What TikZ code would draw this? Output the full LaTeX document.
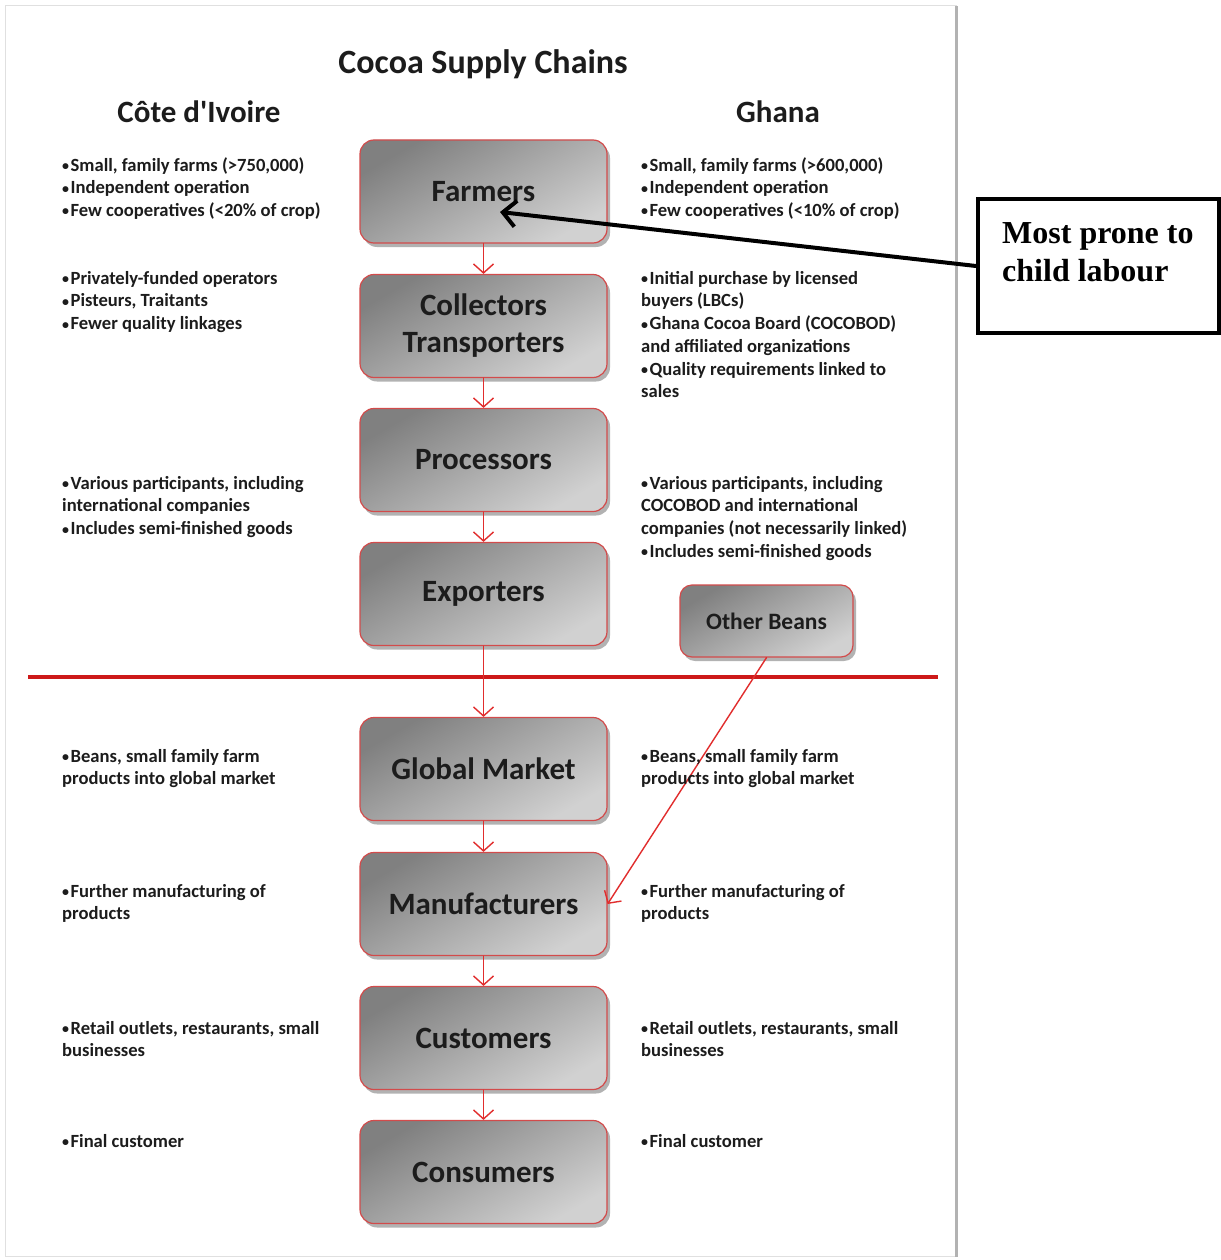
\documentclass[tikz,border=0pt]{standalone}
\usepackage{fontspec}
\setmainfont{Carlito}
\newfontfamily\calloutfont{Liberation Serif}
\usetikzlibrary{shadows,arrows.meta}

\definecolor{boxred}{RGB}{210,75,75}
\definecolor{flowred}{RGB}{225,45,45}
\definecolor{rulered}{RGB}{205,25,25}
\definecolor{inkgray}{RGB}{28,28,28}

% small bullet as in the notes
\newcommand{\bul}{\raisebox{0.5pt}{\scalebox{0.75}{•}}\kern1.5pt}

\begin{document}
\begin{tikzpicture}[x=1pt,y=-1pt,line cap=round,
    stagebox/.style={draw=boxred, line width=1.2pt, rounded corners=14pt,
      minimum width=247pt, minimum height=103pt, align=center,
      top color=black!50, bottom color=black!18, shading angle=30,
      drop shadow={shadow xshift=3pt,shadow yshift=-4pt,opacity=0.3,fill=black},
      text=inkgray, font=\bfseries\fontsize{31}{37}\selectfont},
    notes/.style={anchor=north west, inner sep=0pt, align=left, text=inkgray,
      font=\bfseries\fontsize{18.6}{22.7}\selectfont},
    header/.style={text=inkgray, font=\bfseries\fontsize{31}{34}\selectfont},
    flow/.style={draw=flowred, line width=1.4pt,
      -{Straight Barb[length=9pt,width=20pt,line width=1.4pt]}},
  ]
  % Tunables
  \def\cx{483.5}   % x centre of the chain boxes
  \def\lx{62}      % left edge of the Cote d'Ivoire notes
  \def\rx{641}     % left edge of the Ghana notes

  \useasboundingbox (0,0) rectangle (1220,1260);

  % page frame
  \fill[white] (5,6) rectangle (956,1256);
  \draw[black!12, line width=1pt] (5,6) rectangle (956,1256);
  \fill[black!30] (955,6) rectangle (958,1257);

  % headings
  \node[text=inkgray, font=\bfseries\fontsize{34}{38}\selectfont] (title) at (483,64) {Cocoa Supply Chains};
  \node[header] (civ) at (199,112) {Côte d\textquotesingle Ivoire};
  \node[header] (gha) at (778,112) {Ghana};

  % the chain
  \node[stagebox] (farmers)       at (\cx,191.5) {Farmers};
  \node[stagebox] (collectors)    at (\cx,326)   {Collectors\\Transporters};
  \node[stagebox] (processors)    at (\cx,460)   {Processors};
  \node[stagebox] (exporters)     at (\cx,594)   {Exporters};
  \node[stagebox] (global)        at (\cx,769)   {Global Market};
  \node[stagebox] (manufacturers) at (\cx,904)   {Manufacturers};
  \node[stagebox] (customers)     at (\cx,1038)  {Customers};
  \node[stagebox] (consumers)     at (\cx,1172)  {Consumers};
  \node[stagebox, minimum width=173pt, minimum height=72pt, rounded corners=12pt,
    font=\bfseries\fontsize{23.5}{25}\selectfont] (otherbeans) at (766.5,621) {Other Beans};

  % export line
  \draw[rulered, line width=3.5pt, line cap=butt] (28,677) -- (938,677);

  \foreach \a/\b in {farmers/collectors, collectors/processors, processors/exporters,
      exporters/global, global/manufacturers, manufacturers/customers, customers/consumers}
    \draw[flow] (\a) -- (\b);
  \draw[flow] (otherbeans.south) -- (manufacturers.east);

  % Cote d'Ivoire notes
  \node[notes] (civfarm) at (\lx,157) {\bul Small, family farms (>750,000)\\\bul Independent operation\\\bul Few cooperatives (<20\% of crop)};
  \node[notes] (civcoll) at (\lx,271) {\bul Privately-funded operators\\\bul Pisteurs, Traitants\\\bul Fewer quality linkages};
  \node[notes] (civproc) at (\lx,476) {\bul Various participants, including\\international companies\\\bul Includes semi-finished goods};
  \node[notes] (civglob) at (\lx,749) {\bul Beans, small family farm\\products into global market};
  \node[notes] (civmanu) at (\lx,884) {\bul Further manufacturing of\\products};
  \node[notes] (civcust) at (\lx,1021) {\bul Retail outlets, restaurants, small\\businesses};
  \node[notes] (civcons) at (\lx,1134) {\bul Final customer};

  % Ghana notes
  \node[notes] (ghafarm) at (\rx,157) {\bul Small, family farms (>600,000)\\\bul Independent operation\\\bul Few cooperatives (<10\% of crop)};
  \node[notes] (ghacoll) at (\rx,271) {\bul Initial purchase by licensed\\buyers (LBCs)\\\bul Ghana Cocoa Board (COCOBOD)\\and affiliated organizations\\\bul Quality requirements linked to\\sales};
  \node[notes] (ghaproc) at (\rx,476) {\bul Various participants, including\\COCOBOD and international\\companies (not necessarily linked)\\\bul Includes semi-finished goods};
  \node[notes] (ghaglob) at (\rx,749) {\bul Beans, small family farm\\products into global market};
  \node[notes] (ghamanu) at (\rx,884) {\bul Further manufacturing of\\products};
  \node[notes] (ghacust) at (\rx,1021) {\bul Retail outlets, restaurants, small\\businesses};
  \node[notes] (ghacons) at (\rx,1134) {\bul Final customer};

  % callout
  \node[draw=black, line width=4pt, fill=white, minimum width=241pt, minimum height=134pt] (callout) at (1098.5,266) {};
  \node[anchor=north west, inner sep=0pt, align=left, font=\calloutfont\bfseries\fontsize{32}{38}\selectfont]
    (callouttext) at (1002,222) {Most prone to\\child labour};
  \coordinate (farmpoint) at (500,212);
  \draw[line width=4pt, -{Straight Barb[length=13pt,width=26pt,line width=4pt]}] (callout.west) -- (farmpoint);
\end{tikzpicture}
\end{document}
